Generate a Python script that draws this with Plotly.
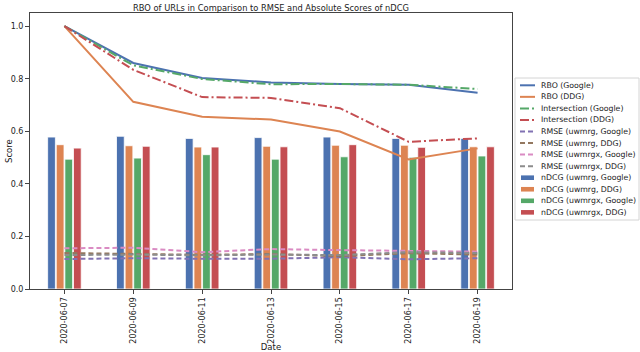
import plotly.graph_objects as go

dates = ["2020-06-07", "2020-06-09", "2020-06-11", "2020-06-13",
         "2020-06-15", "2020-06-17", "2020-06-19"]

rbo_google = [1.0, 0.860, 0.803, 0.786, 0.780, 0.777, 0.747]
rbo_ddg = [1.0, 0.712, 0.655, 0.645, 0.599, 0.493, 0.535]
inter_google = [1.0, 0.851, 0.799, 0.779, 0.780, 0.777, 0.761]
inter_ddg = [1.0, 0.834, 0.730, 0.727, 0.688, 0.560, 0.573]

rmse_uwmrg_google = [0.114, 0.117, 0.115, 0.115, 0.121, 0.113, 0.117]
rmse_uwmrg_ddg = [0.137, 0.134, 0.130, 0.133, 0.125, 0.136, 0.131]
rmse_uwmrgx_google = [0.155, 0.157, 0.140, 0.152, 0.148, 0.144, 0.142]
rmse_uwmrgx_ddg = [0.129, 0.131, 0.128, 0.131, 0.129, 0.140, 0.137]

ndcg_uwmrg_google = [0.578, 0.581, 0.573, 0.576, 0.578, 0.573, 0.573]
ndcg_uwmrg_ddg = [0.549, 0.545, 0.540, 0.543, 0.547, 0.547, 0.541]
ndcg_uwmrgx_google = [0.494, 0.498, 0.511, 0.494, 0.503, 0.501, 0.506]
ndcg_uwmrgx_ddg = [0.536, 0.543, 0.540, 0.541, 0.549, 0.539, 0.541]

BLUE, ORANGE, GREEN, RED = "#4c72b0", "#dd8452", "#55a868", "#c44e52"
PURPLE, BROWN, PINK, GREY = "#8172b3", "#937860", "#da8bc3", "#8c8c8c"
FONT = "DejaVu Sans"
AXIS = "#444444"

DASHDOT = "9px,3px,2px,3px"
DASH = "5px,3px"

# (name, values, color, kind, dash)
series = [
    ("RBO (Google)", rbo_google, BLUE, "line", "solid"),
    ("RBO (DDG)", rbo_ddg, ORANGE, "line", "solid"),
    ("Intersection (Google)", inter_google, GREEN, "line", DASHDOT),
    ("Intersection (DDG)", inter_ddg, RED, "line", DASHDOT),
    ("RMSE (uwmrg, Google)", rmse_uwmrg_google, PURPLE, "line", DASH),
    ("RMSE (uwmrg, DDG)", rmse_uwmrg_ddg, BROWN, "line", DASH),
    ("RMSE (uwmrgx, Google)", rmse_uwmrgx_google, PINK, "line", DASH),
    ("RMSE (uwmrgx, DDG)", rmse_uwmrgx_ddg, GREY, "line", DASH),
    ("nDCG (uwmrg, Google)", ndcg_uwmrg_google, BLUE, "bar", None),
    ("nDCG (uwmrg, DDG)", ndcg_uwmrg_ddg, ORANGE, "bar", None),
    ("nDCG (uwmrgx, Google)", ndcg_uwmrgx_google, GREEN, "bar", None),
    ("nDCG (uwmrgx, DDG)", ndcg_uwmrgx_ddg, RED, "bar", None),
]

fig = go.Figure()

for name, vals, color, kind, dash in series:
    if kind == "bar":
        fig.add_trace(go.Bar(
            x=dates, y=vals, name=name, showlegend=False,
            marker=dict(color=color, line=dict(color="white", width=0.8)),
        ))
for name, vals, color, kind, dash in series:
    if kind == "line":
        fig.add_trace(go.Scatter(
            x=dates, y=vals, name=name, mode="lines", showlegend=False,
            line=dict(color=color, width=2, dash=dash),
        ))

# plot area in pixels, used to place the hand-drawn legend
L, R, T, B = 30, 512, 13, 289


def px(x):
    return (x - L) / (R - L)


def py(y):
    return (B - y) / (B - T)


shapes = [dict(type="rect", xref="paper", yref="paper",
               x0=px(515), x1=px(639), y0=py(220), y1=py(78),
               line=dict(color="#d4d4d4", width=1), fillcolor="white", layer="above")]
annotations = []
for i, (name, vals, color, kind, dash) in enumerate(series):
    yc = 85.3 + i * 11.55
    if kind == "line":
        shapes.append(dict(type="line", xref="paper", yref="paper",
                           x0=px(520), x1=px(535), y0=py(yc), y1=py(yc),
                           line=dict(color=color, width=2, dash=dash), layer="above"))
    else:
        shapes.append(dict(type="rect", xref="paper", yref="paper",
                           x0=px(521), x1=px(534), y0=py(yc + 2.3), y1=py(yc - 2.3),
                           line=dict(width=0), fillcolor=color, layer="above"))
    annotations.append(dict(text=name, xref="paper", yref="paper",
                            x=px(539), y=py(yc), xanchor="left", yanchor="middle",
                            showarrow=False, font=dict(family=FONT, size=7.8, color="#222")))

# y-axis title placed by hand so it sits at the left edge like the original
annotations.append(dict(text="Score", xref="paper", yref="paper", x=px(9), y=0.5,
                        xanchor="center", yanchor="middle", textangle=-90,
                        showarrow=False, font=dict(family=FONT, size=8.5, color="#222")))

fig.update_layout(
    width=640, height=352,
    margin=dict(l=L, r=640 - R, t=T, b=352 - B),
    paper_bgcolor="white", plot_bgcolor="white",
    font=dict(family=FONT, size=8, color="#222"),
    title=dict(text="RBO of URLs in Comparison to RMSE and Absolute Scores of nDCG",
               x=0.5, xref="paper", xanchor="center",
               y=0.976, yref="container", yanchor="middle",
               font=dict(family=FONT, size=8.3, color="#222")),
    barmode="group", bargap=0.5, bargroupgap=0.1,
    showlegend=False,
    shapes=shapes, annotations=annotations,
    xaxis=dict(type="category", range=[-0.5, 6.5], tickangle=-90, automargin=False,
               showline=True, linecolor=AXIS, linewidth=1, mirror=True,
               ticks="outside", ticklen=4, tickcolor=AXIS, showgrid=False,
               tickfont=dict(size=8), title=dict(text="Date", standoff=4,
                                                 font=dict(size=8.5))),
    yaxis=dict(range=[0, 1.05], tickvals=[0, 0.2, 0.4, 0.6, 0.8, 1.0], automargin=False,
               tickformat=".1f", showline=True, linecolor=AXIS, linewidth=1,
               mirror=True, ticks="outside", ticklen=4, tickcolor=AXIS,
               showgrid=False, zeroline=False, tickfont=dict(size=8)),
)

# drop the page's default body margin so the 640x352 figure fills the window
fig.write_html("out.html", config={"displayModeBar": False},
               post_script="document.body.style.margin='0';")
